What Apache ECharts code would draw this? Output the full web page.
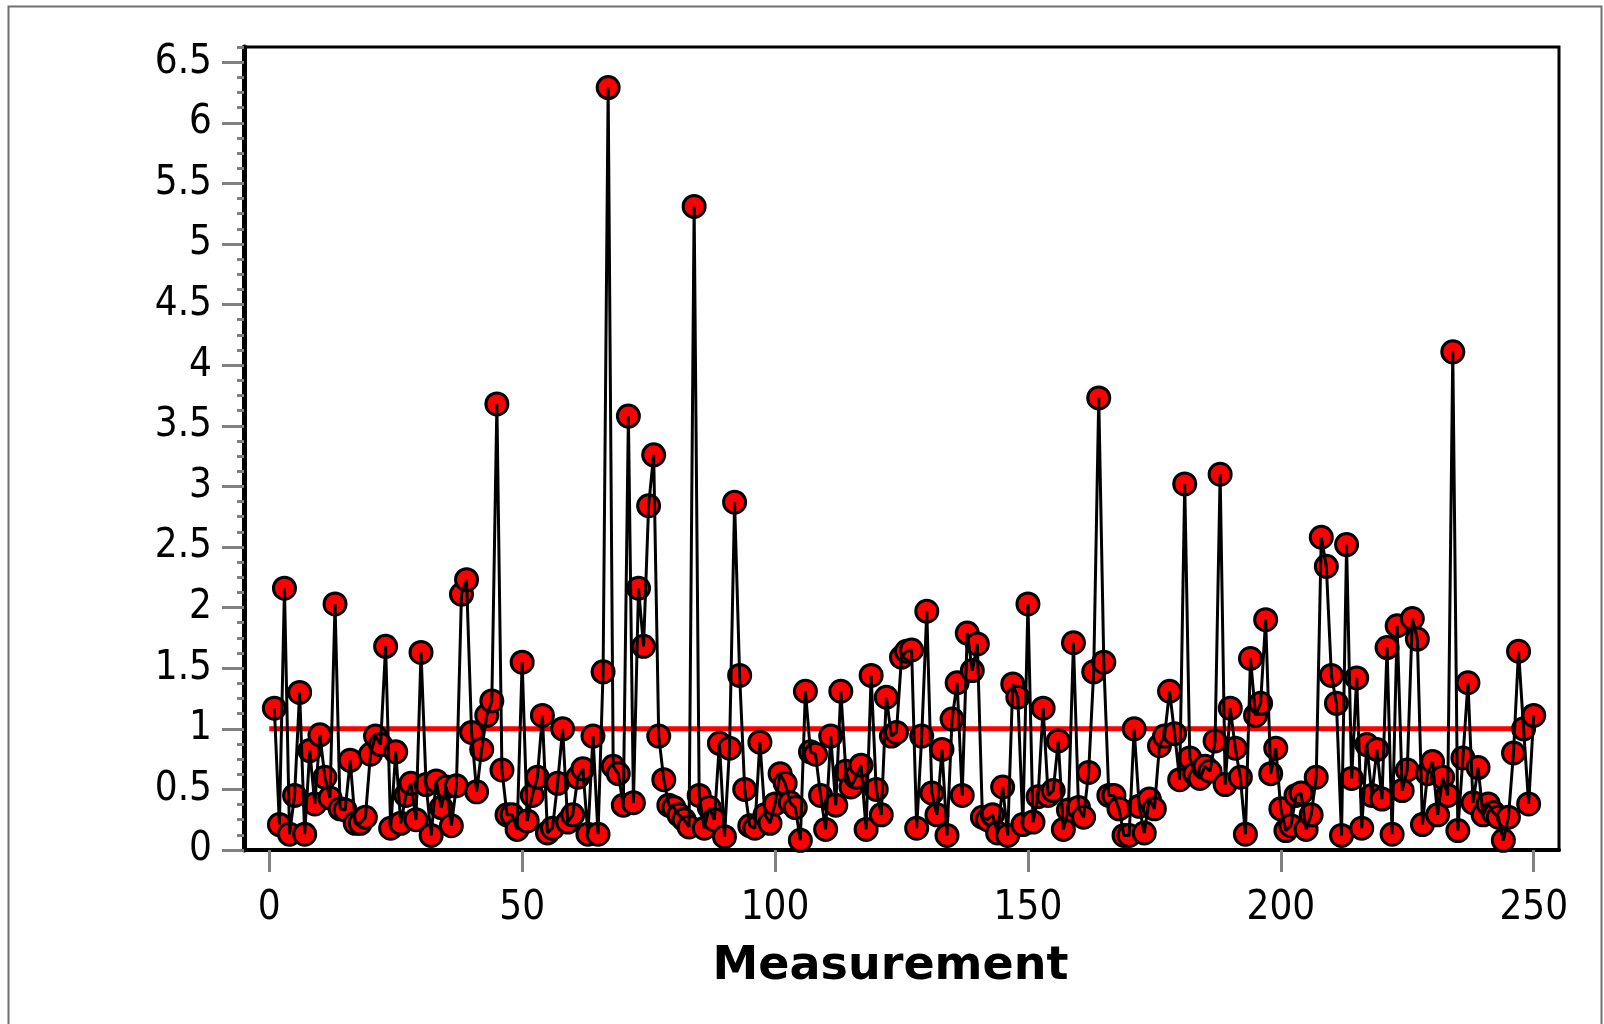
<!DOCTYPE html>
<html>
<head>
<meta charset="utf-8">
<script src="https://cdn.jsdelivr.net/npm/echarts@6/dist/echarts.min.js"></script>
<style>
  html, body { margin: 0; padding: 0; background: #fff; }
  #chart { width: 1604px; height: 1024px; }
</style>
</head>
<body>
<div id="chart"></div>
<script>
// measured values, one per measurement (measurement number = index + 1)
var values = [
  1.17, 0.21, 2.16, 0.13, 0.45, 1.30, 0.13, 0.82, 0.38, 0.95,
  0.60, 0.43, 2.03, 0.34, 0.33, 0.74, 0.22, 0.22, 0.27, 0.79,
  0.94, 0.87, 1.68, 0.18, 0.81, 0.22, 0.45, 0.55, 0.25, 1.63,
  0.54, 0.12, 0.57, 0.35, 0.52, 0.20, 0.53, 2.11, 2.23, 0.97,
  0.48, 0.83, 1.11, 1.23, 3.68, 0.66, 0.29, 0.29, 0.17, 1.55,
  0.24, 0.45, 0.60, 1.11, 0.14, 0.18, 0.55, 1.00, 0.23, 0.29,
  0.60, 0.67, 0.13, 0.94, 0.13, 1.47, 6.29, 0.69, 0.63, 0.37,
  3.58, 0.39, 2.16, 1.68, 2.84, 3.26, 0.94, 0.58, 0.37, 0.35,
  0.29, 0.25, 0.19, 5.31, 0.45, 0.18, 0.35, 0.25, 0.88, 0.11,
  0.84, 2.87, 1.44, 0.50, 0.20, 0.18, 0.89, 0.29, 0.22, 0.38,
  0.63, 0.55, 0.39, 0.35, 0.08, 1.31, 0.81, 0.79, 0.45, 0.17,
  0.94, 0.37, 1.31, 0.65, 0.52, 0.60, 0.70, 0.17, 1.44, 0.50,
  0.29, 1.26, 0.94, 0.97, 1.59, 1.64, 1.65, 0.18, 0.94, 1.97,
  0.47, 0.29, 0.83, 0.12, 1.08, 1.38, 0.45, 1.79, 1.48, 1.70,
  0.27, 0.25, 0.29, 0.14, 0.52, 0.12, 1.37, 1.26, 0.21, 2.03,
  0.23, 0.44, 1.17, 0.45, 0.49, 0.90, 0.17, 0.33, 1.71, 0.35,
  0.27, 0.64, 1.47, 3.73, 1.55, 0.45, 0.45, 0.34, 0.12, 0.12,
  1.00, 0.36, 0.14, 0.42, 0.34, 0.86, 0.94, 1.31, 0.96, 0.58,
  3.02, 0.76, 0.63, 0.59, 0.69, 0.65, 0.90, 3.10, 0.54, 1.17,
  0.84, 0.60, 0.13, 1.58, 1.11, 1.21, 1.90, 0.63, 0.84, 0.34,
  0.16, 0.20, 0.45, 0.47, 0.17, 0.29, 0.60, 2.58, 2.34, 1.44,
  1.21, 0.12, 2.52, 0.59, 1.42, 0.18, 0.87, 0.45, 0.83, 0.42,
  1.67, 0.13, 1.85, 0.49, 0.66, 1.91, 1.74, 0.21, 0.63, 0.73,
  0.29, 0.60, 0.45, 4.11, 0.16, 0.76, 1.38, 0.39, 0.68, 0.29,
  0.38, 0.31, 0.27, 0.08, 0.27, 0.80, 1.64, 1.00, 0.38, 1.11
];

// reference level (red line) and its x extent
var refLevel = 1;
var refRange = [0, 250];

// tick labels
var xTicks = [0, 50, 100, 150, 200, 250];
var yTicks = [0, 0.5, 1, 1.5, 2, 2.5, 3, 3.5, 4, 4.5, 5, 5.5, 6, 6.5];

var FONT = "'DejaVu Sans Condensed', 'DejaVu Sans', sans-serif";
var TICK_GRAY = '#808080';

var points = values.map(function (v, i) { return [i + 1, v]; });
var refLine = refRange.map(function (x) { return [x, refLevel]; });

var chart = echarts.init(document.getElementById('chart'), null, { renderer: 'canvas' });

var option = {
  backgroundColor: '#fff',
  animation: false,
  graphic: [{
    type: 'rect',
    shape: { x: 8.5, y: 6.5, width: 1593, height: 1100 },
    style: { fill: 'none', stroke: '#707070', lineWidth: 2 },
    silent: true
  }],
  grid: {
    left: 244, right: 45, top: 47, bottom: 174,
    show: true, borderColor: '#000', borderWidth: 3,
    backgroundColor: 'transparent'
  },
  xAxis: {
    type: 'value',
    min: -5, max: 255,
    name: 'Measurement',
    nameLocation: 'middle',
    nameGap: 94,
    nameTextStyle: {
      fontFamily: 'DejaVu Sans', fontWeight: 'bold', fontSize: 46, color: '#000',
      padding: [0, 22, 0, 0]
    },
    axisLine: { onZero: false, lineStyle: { color: '#000', width: 4 } },
    axisTick: { show: true, customValues: xTicks, length: 22, lineStyle: { color: TICK_GRAY, width: 3 } },
    axisLabel: { customValues: xTicks, margin: 39, fontFamily: FONT, fontSize: 40, color: '#000' },
    splitLine: { show: false }
  },
  yAxis: [{
    type: 'value',
    min: 0, max: 6.625,
    axisLine: { onZero: false, lineStyle: { color: '#000', width: 5 } },
    axisTick: { show: true, customValues: yTicks, length: 22, lineStyle: { color: TICK_GRAY, width: 3 } },
    axisLabel: { customValues: yTicks, margin: 32, fontFamily: FONT, fontSize: 40, color: '#000' },
    splitLine: { show: false }
  }, {
    // minor ticks only
    type: 'value',
    position: 'left',
    min: 0, max: 6.625, interval: 0.125,
    axisLine: { show: false, onZero: false },
    axisTick: { show: true, length: 7, lineStyle: { color: TICK_GRAY, width: 3 } },
    axisLabel: { show: false },
    splitLine: { show: false }
  }],
  series: [{
    type: 'line',
    data: refLine,
    symbol: 'none',
    z: 1,
    lineStyle: { color: '#ff0000', width: 5 },
    silent: true
  }, {
    type: 'scatter',
    data: points,
    symbol: 'circle',
    symbolSize: 22,
    z: 2,
    itemStyle: { color: '#ff0000', borderColor: '#000', borderWidth: 3, opacity: 1 }
  }, {
    type: 'line',
    data: points,
    symbol: 'none',
    z: 3,
    lineStyle: { color: '#000', width: 3 }
  }]
};

chart.setOption(option);
</script>
</body>
</html>
